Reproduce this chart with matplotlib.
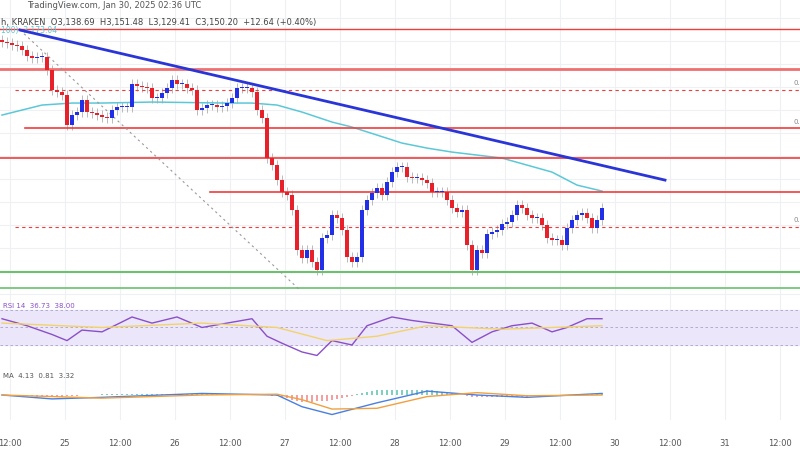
import matplotlib
matplotlib.use("Agg")
import matplotlib.pyplot as plt
import numpy as np

closes = [258,257,255,254,250,244,242,243,243,230,210,208,205,175,185,188,200,188,187,185,
          183,182,190,193,193,193,216,214,213,212,202,202,207,212,220,216,216,212,210,190,
          192,195,195,193,194,197,202,212,212,212,208,190,182,142,135,120,108,105,90,50,
          42,50,38,30,62,65,85,82,70,43,38,43,90,100,107,112,105,118,128,133,
          133,123,122,122,120,117,108,108,108,100,92,88,90,55,30,50,47,66,68,70,
          76,78,85,95,92,85,82,82,75,62,60,60,55,72,80,85,87,82,72,80,92]
ma_idx = [0,4,8,14,20,30,45,50,55,60,63,66,70,75,80,85,90,100,110,115,120]
ma_val = [185,190,195,197,197,198,197,197,195,188,183,178,173,165,157,152,148,142,128,115,109]
rsi_idx = [0,5,10,13,16,20,26,30,35,40,45,50,53,56,60,63,66,70,73,78,82,86,90,94,98,102,106,110,113,117,120]
rsi_val = [60,52,42,35,47,45,62,55,62,50,55,60,40,32,22,18,35,30,52,62,58,55,52,33,45,52,55,45,50,60,60]
rsima_idx = [0,20,40,55,65,75,85,100,120]
rsima_val = [55,50,55,50,35,40,52,48,52]
macd_idx = [0,10,20,40,55,60,66,75,85,95,105,120]
macd_val = [0,-5,-3,2,0,-15,-25,-10,5,0,-3,2]
sig_val = [0,-2,-4,0,1,-6,-18,-17,-2,3,-1,0]
tick_labels = ["12:00","25","12:00","26","12:00","27","12:00","28","12:00","29","12:00","30","12:00","31","12:00"]

fig = plt.figure(figsize=(8,4.5), dpi=100)
XL = (-0.4, 159.6)
ticks = [1.6 + 11*k for k in range(len(tick_labels))]
grid_c = "#eef0f3"

ax = fig.add_axes([0, 0.333, 1, 0.667])
ax.set_xlim(*XL); ax.set_ylim(0, 300)
for t in ticks: ax.axvline(t, color=grid_c, lw=0.8, zorder=0)
for h in np.arange(6, 300, 23): ax.axhline(h, color=grid_c, lw=0.8, zorder=0)
up, dn = "#2130e8", "#e8202a"
n = len(closes)
opens = [closes[0]+2] + closes[:-1]
for i in range(n):
    o, c = opens[i], closes[i]
    col = up if c >= o else dn
    ax.vlines(i, min(o,c)-5, max(o,c)+5, color="#b0b0b0", lw=0.6, zorder=2)
    ax.bar(i, max(abs(c-o),1.5), bottom=min(o,c), width=0.8, color=col, zorder=3)
ax.plot(np.arange(n), np.interp(np.arange(n), ma_idx, ma_val), color="#5bc8d8", lw=1.1, zorder=2)
red = "#f03c3c"
ax.axhline(271, color=red, lw=1)
ax.axhline(231, color="#f07070", lw=2)
ax.plot([2.6,XL[1]],[210,210], color=red, lw=0.8, ls=(0,(3,3)))
ax.plot([4.6,XL[1]],[172,172], color=red, lw=1.2)
ax.axhline(142, color=red, lw=1.2)
ax.plot([41.6,XL[1]],[108,108], color=red, lw=1.2)
ax.plot([2.6,XL[1]],[73,73], color=red, lw=0.8, ls=(0,(3,3)))
ax.axhline(28, color="#6cc070", lw=1.5)
ax.axhline(12, color="#6cc070", lw=1.2)
ax.plot([3.6,132.6],[270,120], color="#2a35d8", lw=2, zorder=4)
ax.plot([3.6,59.6],[270,10], color="#999999", lw=0.8, ls=(0,(2,3)))
ax.text(5, 295, "TradingView.com, Jan 30, 2025 02:36 UTC", fontsize=6, color="#555555", va="center")
ax.text(-0.3, 278, "h, KRAKEN  O3,138.69  H3,151.48  L3,129.41  C3,150.20  +12.64 (+0.40%)", fontsize=6, color="#444444", va="center")
ax.text(-0.3, 270, "100)  3,173.04", fontsize=5.5, color="#5bc8d8", va="center")
for yv, s in [(217,"0.1"),(178,"0.6"),(80,"0.7")]:
    ax.text(158.2, yv, s, fontsize=5, color="#888888", ha="left", va="center")
ax.set_xticks([]); ax.set_yticks([])
for s in ax.spines.values(): s.set_visible(False)

ar = fig.add_axes([0, 80/450, 1, 70/450])
ar.set_xlim(*XL); ar.set_ylim(1.4, 81.4)
for t in ticks: ar.axvline(t, color=grid_c, lw=0.8, zorder=0)
ar.axhspan(30, 70, color="#ece6fa", zorder=0)
for h in (30, 50, 70): ar.axhline(h, color="#a9a2c8", lw=0.6, ls=(0,(3,3)))
ri = np.arange(n)
ar.plot(ri, np.interp(ri, rsi_idx, rsi_val), color="#8a4fc8", lw=1)
ar.plot(ri, np.interp(ri, rsima_idx, rsima_val), color="#f2d36b", lw=1)
ar.text(0.2, 74, "RSI 14  36.73  38.00", fontsize=5, color="#8a4fc8", va="center")
ar.set_xticks([]); ar.set_yticks([])
for s in ar.spines.values(): s.set_visible(False)

am = fig.add_axes([0, 30/450, 1, 50/450])
am.set_xlim(*XL); am.set_ylim(-32, 32)
for t in ticks: am.axvline(t, color=grid_c, lw=0.8, zorder=0)
mv = np.interp(ri, macd_idx, macd_val); sv = np.interp(ri, macd_idx, sig_val)
hist = mv - sv
am.bar(ri, hist, width=0.5, color=["#7fd0c0" if h >= 0 else "#f5a0a0" for h in hist])
am.plot(ri, mv, color="#4a7fe0", lw=1)
am.plot(ri, sv, color="#f0a040", lw=1)
am.text(0.2, 24, "MA  4.13  0.81  3.32", fontsize=5, color="#555555", va="center")
am.set_xticks(ticks); am.set_xticklabels(tick_labels, fontsize=6, color="#555555")
am.tick_params(axis="x", length=0, pad=14)
am.set_yticks([])
for s in am.spines.values(): s.set_visible(False)

fig.savefig("out.png", dpi=100)
